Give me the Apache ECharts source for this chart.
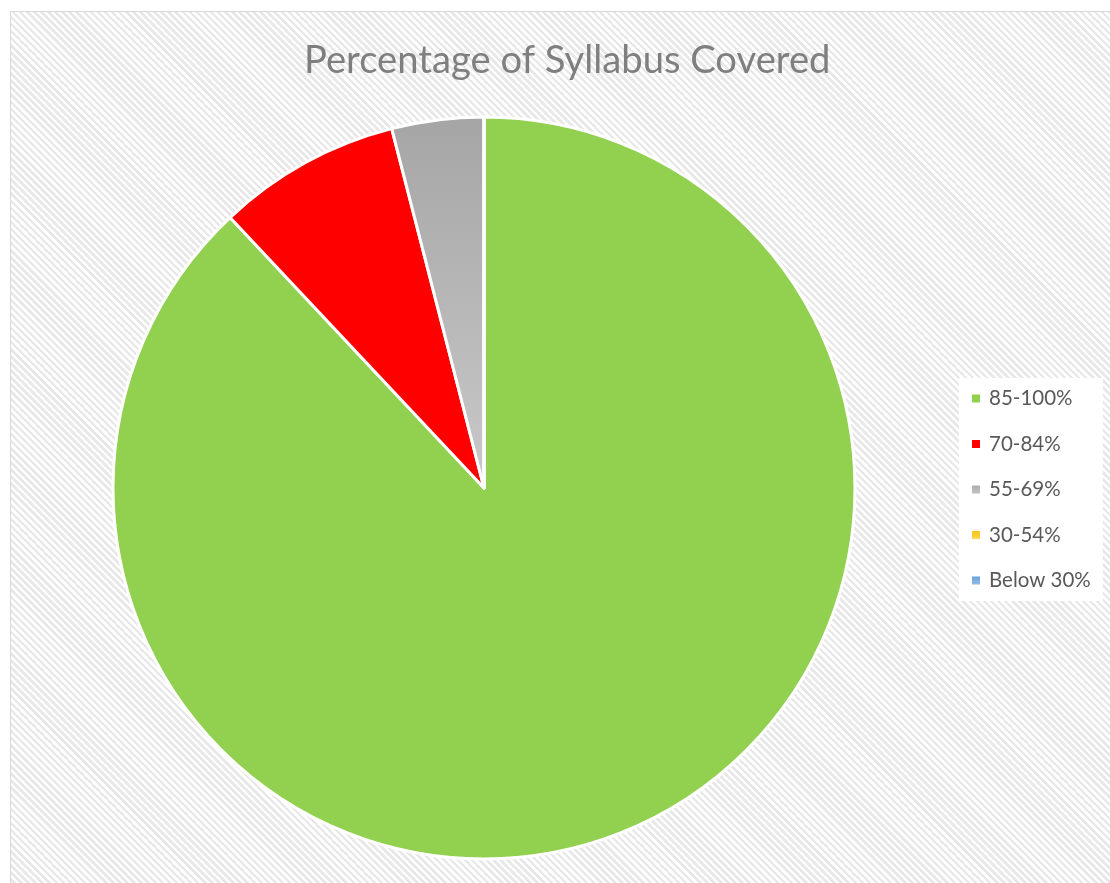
<!DOCTYPE html>
<html>
<head>
<meta charset="utf-8">
<script src="https://cdn.jsdelivr.net/npm/echarts@6/dist/echarts.min.js"></script>
<style>
  html, body { margin: 0; padding: 0; background: #fff; }
  #frame {
    position: absolute; left: 10px; top: 11px; width: 1110px; height: 880px;
    border: 1px solid #d9d9d9;
    background: repeating-linear-gradient(45deg, #ffffff 0px, #ffffff 2.5px, #e8e8e8 2.5px, #e8e8e8 5px);
  }
  #chart { position: absolute; left: 0; top: 0; width: 1110px; height: 883px; }
</style>
</head>
<body>
<div id="frame"></div>
<div id="chart"></div>
<script>
// categories and values
const categories = ['85-100%', '70-84%', '55-69%', '30-54%', 'Below 30%'];
const values = [22, 2, 1, 0, 0];

const colors = [
  '#92D050',
  '#FF0000',
  { type: 'linear', x: 0, y: 0, x2: 0, y2: 1, colorStops: [{ offset: 0, color: '#a5a5a5' }, { offset: 1, color: '#c9c9c9' }] },
  { type: 'linear', x: 0, y: 0, x2: 0, y2: 1, colorStops: [{ offset: 0, color: '#ffc000' }, { offset: 1, color: '#ffd966' }] },
  { type: 'linear', x: 0, y: 0, x2: 0, y2: 1, colorStops: [{ offset: 0, color: '#5b9bd5' }, { offset: 1, color: '#9dc3e6' }] }
];

const myChart = echarts.init(document.getElementById('chart'));

const option = {
  backgroundColor: 'transparent',
  animation: false,
  color: colors,
  title: {
    text: 'Percentage of Syllabus Covered',
    left: 299,
    top: 37,
    textStyle: {
      fontFamily: 'Lato',
      fontSize: 38.2,
      fontWeight: 'normal',
      color: '#7f7f7f'
    }
  },
  // legend on the right, white box
  legend: {
    orient: 'vertical',
    left: 959,
    top: 378,
    itemWidth: 10,
    itemHeight: 10,
    itemGap: 24.5,
    icon: 'rect',
    padding: [10, 12, 10, 11],
    backgroundColor: '#ffffff',
    textStyle: {
      fontFamily: 'Lato',
      fontSize: 20.5,
      lineHeight: 20,
      color: '#595959',
      padding: [0, 0, 0, 3]
    },
    data: categories
  },
  series: [
    {
      type: 'pie',
      center: [484, 488],
      radius: [0, 371],
      startAngle: 90,
      clockwise: true,
      label: { show: false },
      labelLine: { show: false },
      emphasis: { disabled: true },
      itemStyle: { borderColor: '#ffffff', borderWidth: 3 },
      data: categories.map((c, i) => ({ name: c, value: values[i] }))
    }
  ]
};

myChart.setOption(option);
</script>
</body>
</html>
